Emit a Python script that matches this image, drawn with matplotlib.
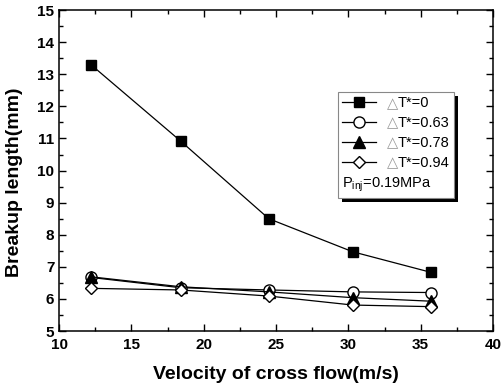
import matplotlib
matplotlib.use('Agg')
import matplotlib.pyplot as plt
from matplotlib.ticker import MultipleLocator
from matplotlib.patches import Rectangle

plt.rcParams['font.family'] = ['Liberation Sans', 'DejaVu Sans']
plt.rcParams['mathtext.default'] = 'regular'

# velocity of cross flow (m/s)
velocity = [12.2, 18.4, 24.5, 30.3, 35.7]
# breakup length (mm) for each delta T*
len_t0 = [13.3, 10.92, 8.5, 7.47, 6.83]
len_t063 = [6.67, 6.35, 6.28, 6.22, 6.2]
len_t078 = [6.69, 6.38, 6.22, 6.04, 5.93]
len_t094 = [6.33, 6.28, 6.09, 5.81, 5.76]
labels = ['T*=0', 'T*=0.63', 'T*=0.78', 'T*=0.94']

fig = plt.figure(figsize=(5.01, 3.89), dpi=100)
ax = fig.add_axes([0.118, 0.149, 0.866, 0.825])

ax.plot(velocity, len_t0, color='k', lw=0.9, marker='s', ms=7, mfc='k', label=labels[0])
ax.plot(velocity, len_t063, color='k', lw=0.9, marker='o', ms=8, mfc='white', label=labels[1])
ax.plot(velocity, len_t078, color='k', lw=0.9, marker='^', ms=8, mfc='k', label=labels[2])
ax.plot(velocity, len_t094, color='k', lw=0.9, marker='D', ms=6.5, mfc='white', label=labels[3])

ax.set_xlim(10, 40)
ax.set_ylim(5, 15)
ax.xaxis.set_major_locator(MultipleLocator(5))
ax.xaxis.set_minor_locator(MultipleLocator(2.5))
ax.yaxis.set_major_locator(MultipleLocator(1))
ax.yaxis.set_minor_locator(MultipleLocator(0.5))
ax.tick_params(which='both', direction='in', top=True, right=True, width=1)
ax.tick_params(which='major', length=5, labelsize=11)
ax.tick_params(which='minor', length=3)
ax.tick_params(axis='x', pad=5)
for lab in ax.get_xticklabels() + ax.get_yticklabels():
    lab.set_fontweight('bold')
for sp in ax.spines.values():
    sp.set_linewidth(1.1)

ax.set_xlabel('Velocity of cross flow(m/s)', fontsize=14, fontweight='bold', labelpad=10)
ax.set_ylabel('Breakup length(mm)', fontsize=14, fontweight='bold')
ax.yaxis.set_label_coords(-0.083, 0.465)

leg = ax.legend(loc='upper left', bbox_to_anchor=(0.643, 0.745), fontsize=10.5,
                title='P$_{inj}$=0.19MPa', title_fontsize=10.5, alignment='left',
                frameon=True, fancybox=False, framealpha=1, edgecolor='#888888',
                borderpad=0.3, labelspacing=0.4, handlelength=2.3,
                handletextpad=1.5, borderaxespad=0)
leg.get_frame().set_linewidth(0.8)
# put the pressure note under the entries
leg._legend_box._children = leg._legend_box._children[::-1]

# grey delta signs in front of the legend labels, plus the black drop shadow
fig.canvas.draw()
inv = fig.transFigure.inverted()
for t in leg.get_texts():
    bb = t.get_window_extent()
    x, y = inv.transform((bb.x0, (bb.y0 + bb.y1) / 2))
    fig.text(x, y, '\u25b3', color='#999999', fontsize=10.5, ha='right', va='center',
             family=['DejaVu Sans'])
fb = leg.get_frame().get_window_extent()
x0, y0 = inv.transform((fb.x0 + 4, fb.y0 - 4))
x1, y1 = inv.transform((fb.x1 + 4, fb.y1 - 4))
ax.add_patch(Rectangle((x0, y0), x1 - x0, y1 - y0, transform=fig.transFigure,
                       facecolor='k', edgecolor='none', zorder=4.9, clip_on=False))

fig.savefig('out.png', dpi=100)
